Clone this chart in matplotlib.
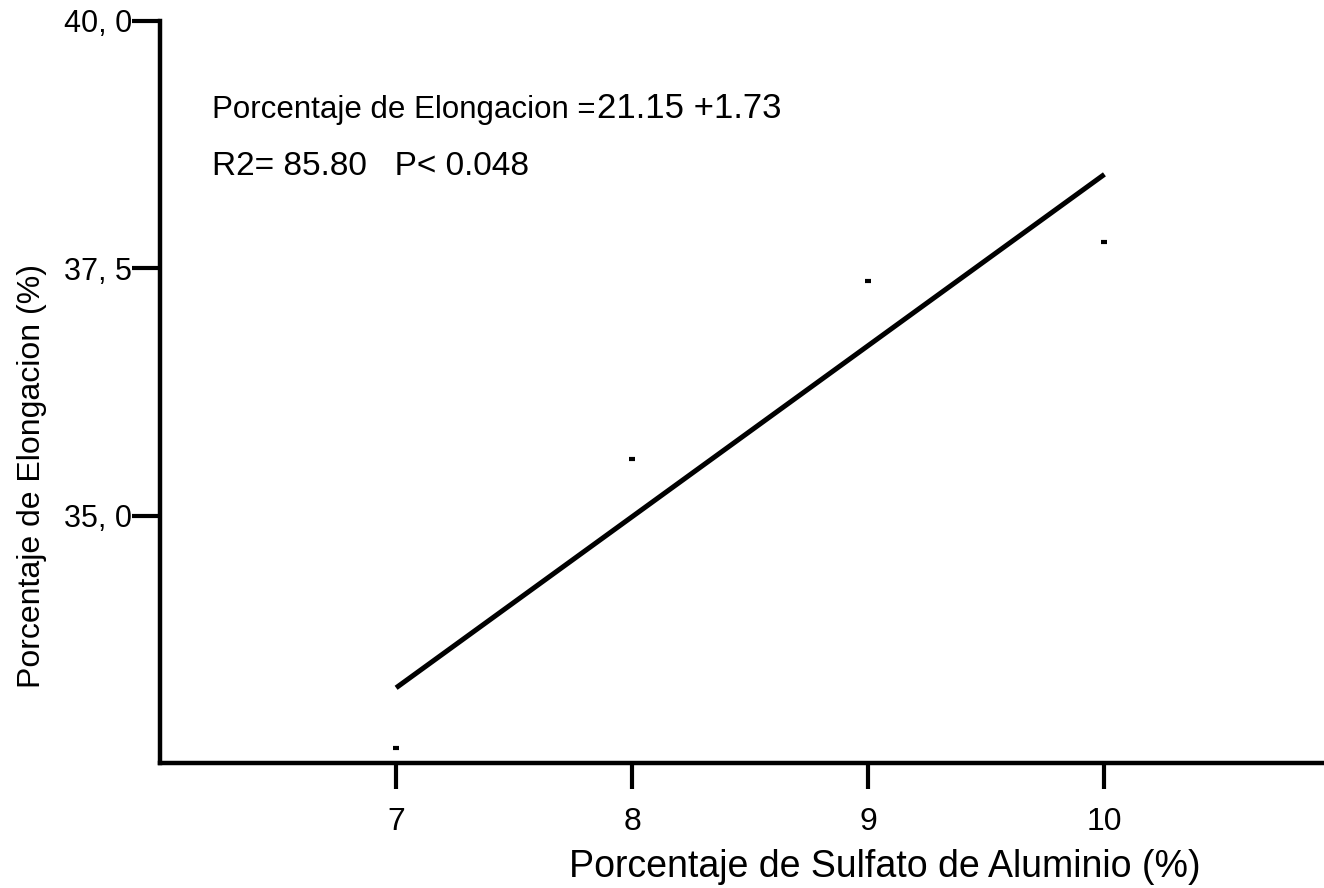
import matplotlib
matplotlib.use("Agg")
import matplotlib.pyplot as plt

plt.rcParams['font.family'] = ['Liberation Sans', 'DejaVu Sans']

# observed elongation per aluminium sulfate level
sulfato = [7, 8, 9, 10]
elongacion = [32.65, 35.57, 37.37, 37.77]

# fitted line: elongacion = intercepto + pendiente * sulfato
intercepto = 21.15
pendiente = 1.73
r2 = 85.80
p_valor = 0.048

x_ticks = [7, 8, 9, 10]
y_ticks = [35.0, 37.5, 40.0]
y_ticklabels = ['35, 0', '37, 5', '40, 0']


def main():
    fig = plt.figure(figsize=(13.24, 8.88), dpi=100)
    ax = fig.add_axes([160 / 1324, 125 / 888, 1 - 160 / 1324, (763 - 21) / 888])

    # regression line over the observed range
    x_fit = [sulfato[0], sulfato[-1]]
    y_fit = [intercepto + pendiente * v for v in x_fit]
    ax.plot(x_fit, y_fit, color='black', lw=3.6, solid_capstyle='butt', clip_on=False)

    # small flat dashes for the observed values
    ax.plot(sulfato, elongacion, linestyle='none', marker='_', markersize=4.5,
            markeredgewidth=3, color='black')

    ax.set_xlim(6, 10.93)
    ax.set_ylim(32.5, 40.0)

    for side in ['top', 'right']:
        ax.spines[side].set_visible(False)
    for side in ['left', 'bottom']:
        ax.spines[side].set_linewidth(3.2)
        ax.spines[side].set_capstyle('projecting')

    ax.set_xticks(x_ticks)
    ax.set_xticklabels([str(t) for t in x_ticks], fontsize=23)
    ax.set_yticks(y_ticks)
    ax.set_yticklabels(y_ticklabels, fontsize=22)
    ax.tick_params(axis='x', direction='out', length=19, width=3, pad=13)
    ax.tick_params(axis='y', direction='out', length=20, width=3, pad=0)

    ax.set_xlabel('Porcentaje de Sulfato de Aluminio (%)', fontsize=27)
    ax.xaxis.set_label_coords(0.623, -0.116)
    ax.set_ylabel('Porcentaje de Elongacion (%)', fontsize=23)
    ax.yaxis.set_label_coords(-0.097, 0.387)

    # equation and fit statistics
    fig.text(212 / 1324, 1 - 118 / 888, 'Porcentaje de Elongacion =',
             fontsize=22.5, va='baseline', ha='left')
    fig.text(597 / 1324, 1 - 118 / 888, f'{intercepto:.2f} +{pendiente:.2f}',
             fontsize=25, va='baseline', ha='left')
    fig.text(212 / 1324, 1 - 175 / 888, f'R2= {r2:.2f}   P< {p_valor:.3f}',
             fontsize=24, va='baseline', ha='left')

    fig.savefig('out.png', dpi=100, facecolor='white')


if __name__ == '__main__':
    main()
